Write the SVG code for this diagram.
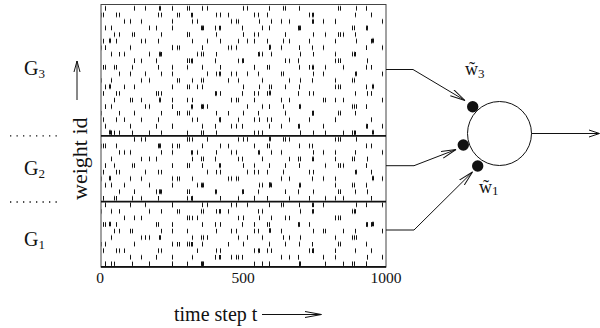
<svg xmlns="http://www.w3.org/2000/svg" width="600" height="328" viewBox="0 0 600 328">
<style>
.t{font-family:"Liberation Serif","Times New Roman",serif;fill:#111}
.tk{stroke:#111;stroke-width:1;fill:none}
.tkb{stroke:#111;stroke-width:2;fill:none}
.ln{stroke:#111;stroke-width:1;fill:none}
.dot{stroke:#111;stroke-width:1.3;stroke-dasharray:1.3 5.2;fill:none}
</style>
<defs>
<pattern id="pA" patternUnits="userSpaceOnUse" x="101" y="4.8" width="97" height="19.65">
<path class="tk" d="M4.5 1.3v4.5M71.5 1.3v4.5M18.5 7.85v4.5M60.5 7.85v4.5M40.5 14.4v4.5M91.5 14.4v4.5"/>
</pattern>
<pattern id="pB" patternUnits="userSpaceOnUse" x="123" y="4.8" width="151" height="26.2">
<path class="tk" d="M11.5 1.3v4.5M64.5 1.3v4.5M66.5 1.3v4.5M120.5 1.3v4.5M35.5 7.85v4.5M97.5 7.85v4.5M131.5 7.85v4.5M144.5 7.85v4.5M7.5 14.4v4.5M49.5 14.4v4.5M108.5 14.4v4.5M113.5 14.4v4.5M26.5 20.95v4.5M78.5 20.95v4.5M80.5 20.95v4.5M139.5 20.95v4.5"/>
</pattern>
<pattern id="pC" patternUnits="userSpaceOnUse" x="57" y="4.8" width="211" height="32.75">
<path class="tk" d="M15.5 1.3v4.5M88.5 1.3v4.5M150.5 1.3v4.5M190.5 1.3v4.5M44.5 7.85v4.5M120.5 7.85v4.5M122.5 7.85v4.5M171.5 7.85v4.5M3.5 14.4v4.5M67.5 14.4v4.5M140.5 14.4v4.5M202.5 14.4v4.5M30.5 20.95v4.5M99.5 20.95v4.5M158.5 20.95v4.5M185.5 20.95v4.5M57.5 27.5v4.5M75.5 27.5v4.5M130.5 27.5v4.5M197.5 27.5v4.5"/>
</pattern>
<pattern id="pD" patternUnits="userSpaceOnUse" x="20" y="4.8" width="263" height="45.85">
<path class="tkb" d="M140 1.3v4.5M30 14.4v4.5M200 20.95v4.5M90 33.55v4.5M250 40.1v4.5M172 7.85v4.5"/>
</pattern>
<marker id="ah" markerUnits="userSpaceOnUse" markerWidth="20" markerHeight="10" refX="15" refY="4" orient="auto" viewBox="0 0 20 10">
<path d="M0 0.5L15 4L0 7.5" fill="none" stroke="#111" stroke-width="1"/>
</marker>
</defs>

<g id="raster">
<rect x="101.5" y="5" width="284" height="261.5" fill="url(#pA)"/>
<rect x="101.5" y="5" width="284" height="261.5" fill="url(#pB)"/>
<rect x="101.5" y="5" width="284" height="261.5" fill="url(#pC)"/>
<rect x="101.5" y="5" width="284" height="261.5" fill="url(#pD)"/>
<rect x="101" y="4.5" width="285" height="262.5" fill="none" stroke="#444" stroke-width="1"/>
<path d="M101 135.8H386M101 201.6H386M101 266.8H386" stroke="#111" stroke-width="1.8" fill="none"/>
</g>

<g id="group-labels">
<text class="t" x="24" y="75" font-size="20">G<tspan font-size="13" dy="3">3</tspan></text>
<text class="t" x="24" y="175" font-size="20">G<tspan font-size="13" dy="3">2</tspan></text>
<text class="t" x="24" y="246" font-size="20">G<tspan font-size="13" dy="3">1</tspan></text>
<path class="dot" d="M10 135.8H62M10 202H62"/>
</g>

<g id="y-axis">
<path class="ln" d="M77 100V61M74 72L77 61L80 72"/>
<text class="t" font-size="22" transform="translate(86.5,200) rotate(-90)">weight id</text>
</g>

<g id="x-axis">
<text class="t" x="100" y="283" font-size="15.5" text-anchor="middle">0</text>
<text class="t" x="243" y="283" font-size="15.5" text-anchor="middle">500</text>
<text class="t" x="386" y="283" font-size="15.5" text-anchor="middle">1000</text>
<text class="t" x="174" y="321" font-size="20">time step t</text>
<path class="ln" d="M262 314.5H321M305 311.5L321.5 314.5L305 317.5"/>
</g>

<g id="connectors">
<path class="ln" d="M386 69.5H413L465 100.5" marker-end="url(#ah)"/>
<path class="ln" d="M386 165.7H414L456 149.5" marker-end="url(#ah)"/>
<path class="ln" d="M386 230H414L472.5 172" marker-end="url(#ah)"/>
<path class="ln" d="M531.5 133.5H599M589 130L599.5 133.5L589 137"/>
</g>

<g id="neuron">
<circle cx="499.5" cy="133.5" r="32" fill="none" stroke="#111" stroke-width="1"/>
<circle cx="472.7" cy="106.7" r="5.7" fill="#111"/>
<circle cx="463.3" cy="145" r="5.7" fill="#111"/>
<circle cx="477.7" cy="166" r="5.7" fill="#111"/>
<text class="t" x="465" y="75" font-size="18">w̃<tspan font-size="13" dy="3">3</tspan></text>
<text class="t" x="479" y="193" font-size="18">w̃<tspan font-size="13" dy="2">1</tspan></text>
</g>
</svg>
